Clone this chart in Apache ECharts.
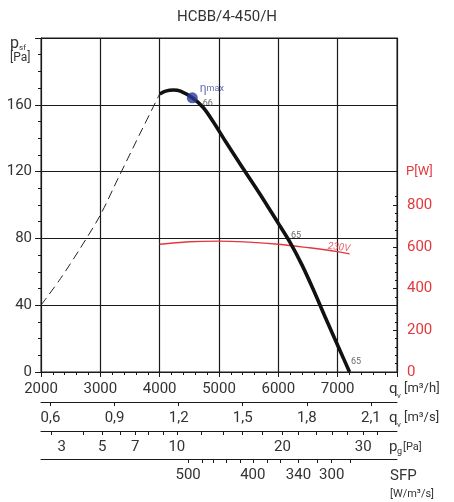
<!DOCTYPE html>
<html>
<head>
<meta charset="utf-8">
<script src="https://cdn.jsdelivr.net/npm/echarts@6.0.0/dist/echarts.min.js"></script>
<style>
  html, body { margin: 0; padding: 0; background: #fff; }
  #fanChart { width: 454px; height: 502px; }
</style>
</head>
<body>
<div id="fanChart"></div>
<script>
// pressure curve, m3/h -> Pa
var pressQ = [4000, 4100, 4230, 4350, 4550, 4730, 4900, 5100, 5400, 5700, 6000, 6200, 6400, 6600, 6800, 7050, 7200];
var pressP = [166.5, 168.2, 168.9, 168.2, 164.2, 158.5, 150, 138.6, 122.2, 106, 89, 77.5, 64, 48.5, 32, 12, 0];
// dashed part (outside working range)
var dashQ = [2000, 2330, 2660, 3000, 3300, 3700, 4000];
var dashP = [40, 56, 74, 94, 116, 145, 166.5];
// power input, W
var powerQ = [4000, 4500, 5000, 5500, 6000, 6500, 7000, 7200];
var powerW = [612, 624, 627, 622, 612, 596, 577, 566];
// best efficiency point
var etaQ = 4550, etaP = 164.2;
// efficiency notes on the curve
var noteQ = [4790, 6298, 7309];
var noteP = [160.5, 81.4, 6];
var noteText = ['-66', '65', '65'];

// axis ticks / labels
var flowTicks = [2000, 3000, 4000, 5000, 6000, 7000];
var pressTicks = [0, 40, 80, 120, 160];
var powerTicks = [0, 200, 400, 600, 800];
var m3sLabels = [0.6, 0.9, 1.2, 1.5, 1.8, 2.1];
var pgLabels = [3, 5, 7, 10, 20, 30];
var pgLabelQ = [2350, 3030, 3590, 4290, 6070, 7430];
var pgTickQ = [2180, 2710, 3030, 3330, 3590, 3800, 4060, 4290, 4700, 5070, 5400, 5730, 6070, 6330, 6640, 6910, 7160, 7430, 7670];
var sfpLabels = [500, 400, 340, 300];
var sfpLabelQ = [4480, 5570, 6340, 6900];
var sfpTickQ = [4480, 4710, 4910, 5130, 5360, 5570, 5810, 6030, 6340, 6650, 6900, 7210];

var ink = '#1a1a1a';
var txt = '#333';
var red = '#e2383e';
var font = 'Roboto';

function pairs(xs, ys) {
    return xs.map(function (x, i) { return [x, ys[i]]; });
}

var m3sQ = m3sLabels.map(function (v) { return Math.round(v * 3600); });
var powerMinor = [];
for (var w = 0; w <= 840; w += 40) powerMinor.push(w);

function bottomAxis(offset, ticks, labels, fmt) {
    return {
        type: 'value', min: 2000, max: 8000, gridIndex: 0, position: 'bottom', offset: offset,
        axisLine: { show: true, onZero: false, lineStyle: { color: ink, width: 1 } },
        axisTick: { show: true, length: 4, customValues: ticks, lineStyle: { color: ink } },
        axisLabel: { customValues: labels, formatter: fmt, margin: 9, color: txt, fontSize: 15, fontFamily: font },
        splitLine: { show: false }
    };
}

var myChart = echarts.init(document.getElementById('fanChart'));
var option = {
    animation: false,
    title: {
        text: 'HCBB/4-450/H', left: 'center', top: 5,
        textStyle: { color: txt, fontSize: 15, fontWeight: 'normal', fontFamily: font }
    },
    grid: {
        left: 41, right: 57, top: 38, bottom: 130,
        show: true, borderColor: ink, borderWidth: 1, backgroundColor: 'transparent'
    },
    xAxis: [
        {
            type: 'value', min: 2000, max: 8000, interval: 1000, position: 'bottom',
            axisLine: { show: true, onZero: false, lineStyle: { color: ink } },
            axisTick: { show: true, length: 5, lineStyle: { color: ink } },
            minorTick: { show: true, splitNumber: 5, length: 3, lineStyle: { color: ink } },
            axisLabel: {
                customValues: flowTicks, margin: 10, color: txt, fontSize: 15, fontFamily: font,
                formatter: function (v) { return String(v); }
            },
            splitLine: { show: true, lineStyle: { color: ink, width: 1.2 } }
        },
        bottomAxis(30, m3sQ, m3sQ, function (v) { return (v / 3600).toFixed(1).replace('.', ','); }),
        bottomAxis(59, pgTickQ, pgLabelQ, function (v) { return String(pgLabels[pgLabelQ.indexOf(v)]); }),
        bottomAxis(87, sfpTickQ, sfpLabelQ, function (v) { return String(sfpLabels[sfpLabelQ.indexOf(v)]); })
    ],
    yAxis: [
        {
            type: 'value', min: 0, max: 200, interval: 40, position: 'left',
            axisLine: { show: true, lineStyle: { color: ink } },
            axisTick: { show: true, length: 6, lineStyle: { color: ink } },
            minorTick: { show: true, splitNumber: 4, length: 3, lineStyle: { color: ink } },
            axisLabel: { customValues: pressTicks, margin: 9, color: txt, fontSize: 15, fontFamily: font },
            splitLine: { show: true, lineStyle: { color: ink, width: 1.2 } }
        },
        {
            type: 'value', min: 0, max: 1600, position: 'right',
            axisLine: { show: true, lineStyle: { color: ink } },
            axisTick: { show: true, inside: true, length: 4, customValues: powerTicks, lineStyle: { color: ink } },
            axisLabel: { customValues: powerTicks, margin: 10, color: red, fontSize: 15, fontFamily: font },
            splitLine: { show: false }
        },
        {
            type: 'value', min: 0, max: 1600, position: 'right',
            axisLine: { show: false },
            axisTick: { show: true, inside: true, length: 2, customValues: powerMinor, lineStyle: { color: ink } },
            axisLabel: { show: false },
            splitLine: { show: false }
        }
    ],
    graphic: [
        { type: 'text', x: 10, y: 44, style: { text: 'p', fontSize: 16, fontFamily: font, fill: txt, verticalAlign: 'middle' } },
        { type: 'text', x: 19, y: 48, style: { text: 'sf', fontSize: 8, fontFamily: font, fill: txt, verticalAlign: 'middle' } },
        { type: 'text', x: 10, y: 58, style: { text: '[Pa]', fontSize: 12, fontFamily: font, fill: txt, verticalAlign: 'middle' } },

        { type: 'text', x: 406, y: 172, style: { text: 'P[W]', fontSize: 13, fontFamily: font, fill: red, verticalAlign: 'middle' } },

        { type: 'text', x: 389, y: 389, style: { text: 'q', fontSize: 15, fontFamily: font, fill: txt, verticalAlign: 'middle' } },
        { type: 'text', x: 397, y: 396, style: { text: 'v', fontSize: 8, fontFamily: font, fill: txt, verticalAlign: 'middle' } },
        { type: 'text', x: 404, y: 389, style: { text: '[m³/h]', fontSize: 13, fontFamily: font, fill: txt, verticalAlign: 'middle' } },

        { type: 'text', x: 389, y: 418, style: { text: 'q', fontSize: 15, fontFamily: font, fill: txt, verticalAlign: 'middle' } },
        { type: 'text', x: 397, y: 425, style: { text: 'v', fontSize: 8, fontFamily: font, fill: txt, verticalAlign: 'middle' } },
        { type: 'text', x: 404, y: 418, style: { text: '[m³/s]', fontSize: 13, fontFamily: font, fill: txt, verticalAlign: 'middle' } },

        { type: 'text', x: 389, y: 447, style: { text: 'p', fontSize: 15, fontFamily: font, fill: txt, verticalAlign: 'middle' } },
        { type: 'text', x: 397, y: 452, style: { text: 'g', fontSize: 9, fontFamily: font, fill: txt, verticalAlign: 'middle' } },
        { type: 'text', x: 403, y: 447, style: { text: '[Pa]', fontSize: 11, fontFamily: font, fill: txt, verticalAlign: 'middle' } },

        { type: 'text', x: 390, y: 476, style: { text: 'SFP', fontSize: 15, fontFamily: font, fill: txt, verticalAlign: 'middle' } },
        { type: 'text', x: 390, y: 494, style: { text: '[W/m³/s]', fontSize: 11, fontFamily: font, fill: txt, verticalAlign: 'middle' } }
    ],
    series: [
        {
            name: 'dashed', type: 'line', xAxisIndex: 0, yAxisIndex: 0,
            data: pairs(dashQ, dashP), smooth: 0.3, symbol: 'none',
            lineStyle: { color: '#222', width: 1, type: [9, 5] }
        },
        {
            name: 'p_sf', type: 'line', xAxisIndex: 0, yAxisIndex: 0,
            data: pairs(pressQ, pressP), smooth: 0.3, symbol: 'none',
            lineStyle: { color: '#111', width: 3.6 }, z: 4
        },
        {
            name: 'P', type: 'line', xAxisIndex: 0, yAxisIndex: 1,
            data: pairs(powerQ, powerW), smooth: 0.4, symbol: 'none',
            lineStyle: { color: red, width: 1.3 }, z: 3
        },
        {
            name: 'notes', type: 'scatter', xAxisIndex: 0, yAxisIndex: 0,
            data: pairs(noteQ, noteP), symbolSize: 0, silent: true,
            label: {
                show: true, position: 'inside', color: '#444', fontSize: 9, fontFamily: font,
                formatter: function (p) { return noteText[p.dataIndex]; }
            }, z: 6
        },
        {
            name: '230V', type: 'scatter', xAxisIndex: 0, yAxisIndex: 1,
            data: [[7023, 596]], symbolSize: 0, silent: true,
            label: {
                show: true, position: 'inside', color: red, fontSize: 10, fontStyle: 'italic',
                fontFamily: font, rotate: -7, formatter: '230V'
            }, z: 6
        },
        {
            name: 'eta', type: 'scatter', xAxisIndex: 0, yAxisIndex: 0,
            data: [[etaQ, etaP]], symbol: 'circle', symbolSize: 11,
            itemStyle: { color: '#2b3a96' },
            label: {
                show: true, position: 'right', distance: 2, offset: [0, -9],
                formatter: '{e|η}{m|max}',
                rich: {
                    e: { color: '#3a4aa0', fontSize: 12, fontFamily: font },
                    m: { color: '#3a4aa0', fontSize: 9, fontFamily: font }
                }
            }, z: 7
        }
    ]
};
myChart.setOption(option);
</script>
</body>
</html>
